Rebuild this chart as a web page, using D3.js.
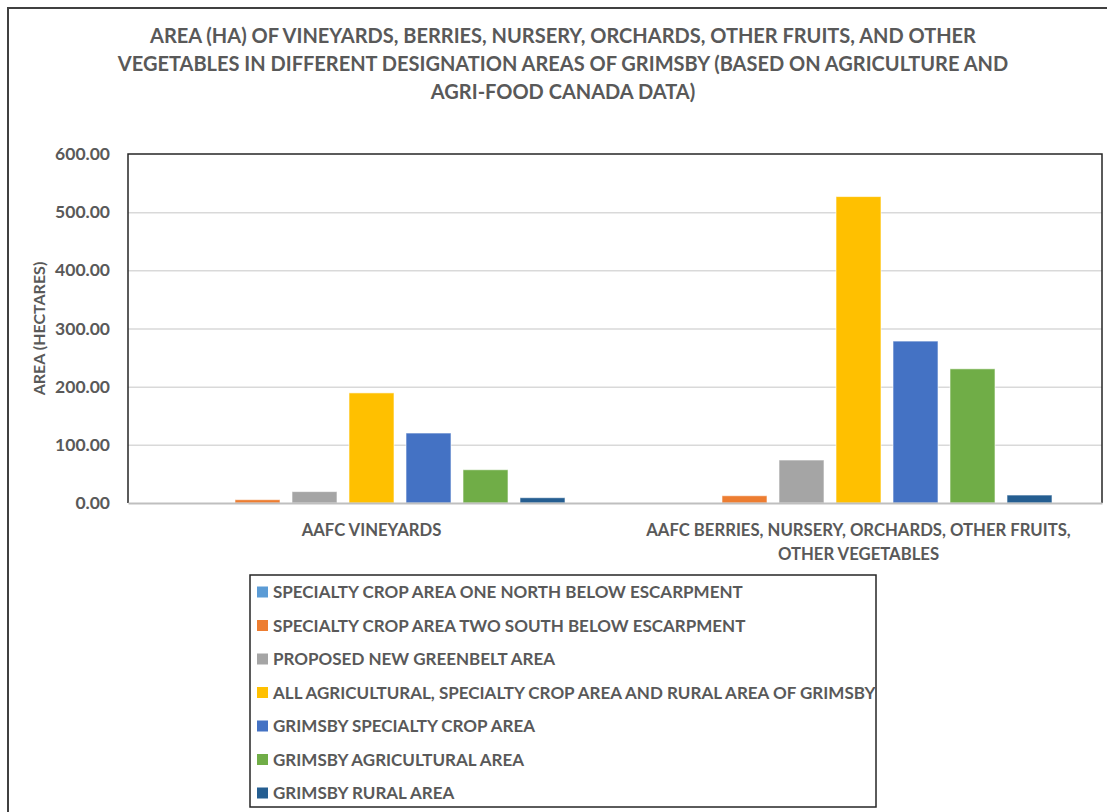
<!DOCTYPE html>
<html lang="en">
<head>
  <meta charset="utf-8" />
  <title>Grimsby agricultural areas</title>
  <script src="https://cdn.jsdelivr.net/npm/d3@7/dist/d3.min.js"></script>
  <style>
    body { margin: 0; background: white; }
    text { font-family: Lato, "Open Sans", sans-serif; font-weight: bold; fill: #595959; }
  </style>
</head>
<body>
<script>

// chart data
var categories = ["AAFC VINEYARDS", "AAFC BERRIES, NURSERY, ORCHARDS, OTHER FRUITS, OTHER VEGETABLES"];
var categoryLines = [["AAFC VINEYARDS"], ["AAFC BERRIES, NURSERY, ORCHARDS, OTHER FRUITS,", "OTHER VEGETABLES"]];
var seriesNames = [
  "SPECIALTY CROP AREA ONE NORTH BELOW ESCARPMENT",
  "SPECIALTY CROP AREA TWO SOUTH BELOW ESCARPMENT",
  "PROPOSED NEW GREENBELT AREA",
  "ALL AGRICULTURAL, SPECIALTY CROP AREA AND RURAL AREA OF GRIMSBY",
  "GRIMSBY SPECIALTY CROP AREA",
  "GRIMSBY AGRICULTURAL AREA",
  "GRIMSBY RURAL AREA"
];
var seriesColors = ["#5B9BD5", "#ED7D31", "#A5A5A5", "#FFC000", "#4472C4", "#70AD47", "#255E91"];
// values per series: [vineyards, berries etc.]
var vineyards = [0, 5.7, 19.6, 189.3, 120.3, 57.2, 9.1];
var berries   = [0, 12.5, 73.9, 526.8, 278.4, 230.7, 13.7];
var yTicks = [0, 100, 200, 300, 400, 500, 600];
var titleLines = [
  "AREA (HA) OF VINEYARDS, BERRIES, NURSERY, ORCHARDS, OTHER FRUITS, AND OTHER",
  "VEGETABLES IN DIFFERENT DESIGNATION AREAS OF GRIMSBY (BASED ON AGRICULTURE AND",
  "AGRI-FOOD CANADA DATA)"
];

var w = 1107, h = 812;
var plot = {left: 128, right: 1102, top: 154, bottom: 503};

var svg = d3.select("body").append("svg")
  .attr("width", w)
  .attr("height", h);

// outer chart frame (runs off the right and bottom edges)
svg.append("rect")
  .attr("x", 8).attr("y", 8)
  .attr("width", 1110).attr("height", 820)
  .attr("fill", "white")
  .attr("stroke", "#404040")
  .attr("stroke-width", 2);

// title
svg.append("g").selectAll("text")
  .data(titleLines)
  .enter().append("text")
  .attr("x", 563)
  .attr("y", function(d, i) { return 43 + i * 28; })
  .attr("text-anchor", "middle")
  .style("font-size", "20px")
  .text(function(d) { return d; });

var xScale = d3.scaleBand()
  .domain(categories)
  .range([plot.left, plot.right]);
var xInner = d3.scaleBand()
  .domain(d3.range(seriesNames.length))
  .range([0, xScale.bandwidth()])
  .paddingInner(12 / 57)
  .paddingOuter(0.877);
var yScale = d3.scaleLinear()
  .domain([0, 600])
  .range([plot.bottom, plot.top]);

// gridlines
svg.append("g")
  .attr("class", "grid")
  .attr("transform", "translate(" + plot.left + ",0)")
  .call(d3.axisLeft(yScale).tickValues(yTicks.slice(1, -1)).tickSize(-(plot.right - plot.left)).tickFormat(""))
  .call(function(g) {
    g.select(".domain").remove();
    g.selectAll("line").attr("stroke", "#d9d9d9").attr("stroke-width", 1.5);
  });

// y axis labels
svg.append("g")
  .attr("class", "y_axis")
  .attr("transform", "translate(" + plot.left + ",0)")
  .call(d3.axisLeft(yScale).tickValues(yTicks).tickSize(0).tickPadding(18).tickFormat(d3.format(".2f")))
  .call(function(g) {
    g.select(".domain").remove();
    g.selectAll("text").style("font-size", "17.5px").attr("fill", null);
  });

svg.append("text")
  .attr("transform", "translate(45," + ((plot.top + plot.bottom) / 2) + ") rotate(-90)")
  .attr("text-anchor", "middle")
  .style("font-size", "16px")
  .text("AREA (HECTARES)");

// bars
var groups = svg.append("g").selectAll("g")
  .data(categories)
  .enter().append("g")
  .attr("transform", function(d) { return "translate(" + xScale(d) + ",0)"; });

groups.selectAll("rect")
  .data(function(d, ci) {
    var vals = ci === 0 ? vineyards : berries;
    return vals.map(function(v, si) { return {s: si, v: v}; });
  })
  .enter().append("rect")
  .attr("x", function(d) { return xInner(d.s); })
  .attr("y", function(d) { return yScale(d.v); })
  .attr("width", xInner.bandwidth())
  .attr("height", function(d) { return yScale(0) - yScale(d.v); })
  .attr("fill", function(d) { return seriesColors[d.s]; })
  .attr("stroke", "white")
  .attr("stroke-opacity", 0.6)
  .attr("stroke-width", 1);

// plot border (left, top, right) and category axis
svg.append("path")
  .attr("d", "M" + plot.left + "," + plot.bottom + "V" + plot.top + "H" + plot.right + "V" + plot.bottom)
  .attr("fill", "none")
  .attr("stroke", "#262626")
  .attr("stroke-width", 1.5);

svg.append("g")
  .attr("class", "x_axis")
  .attr("transform", "translate(0," + plot.bottom + ")")
  .call(d3.axisBottom(xScale).tickSize(0).tickFormat(""))
  .call(function(g) {
    g.select(".domain").attr("stroke", "#bfbfbf").attr("stroke-width", 2);
  });

svg.append("g").selectAll("text")
  .data(categories)
  .enter().append("text")
  .attr("x", function(d) { return xScale(d) + xScale.bandwidth() / 2; })
  .attr("y", 536)
  .attr("text-anchor", "middle")
  .style("font-size", "16.7px")
  .each(function(d, i) {
    d3.select(this).selectAll("tspan")
      .data(categoryLines[i])
      .enter().append("tspan")
      .attr("x", xScale(d) + xScale.bandwidth() / 2)
      .attr("dy", function(t, j) { return j === 0 ? 0 : 24; })
      .text(function(t) { return t; });
  });

// legend
var legend = svg.append("g");
legend.append("rect")
  .attr("x", 250).attr("y", 575)
  .attr("width", 626).attr("height", 232)
  .attr("fill", "white")
  .attr("stroke", "#262626")
  .attr("stroke-width", 1.5);

svg.append("clipPath").attr("id", "legclip")
  .append("rect").attr("x", 250).attr("y", 575).attr("width", 626).attr("height", 232);

var items = legend.append("g").attr("clip-path", "url(#legclip)")
  .selectAll("g")
  .data(seriesNames)
  .enter().append("g")
  .attr("transform", function(d, i) { return "translate(257," + (592 + i * 33.5) + ")"; });

items.append("rect")
  .attr("x", 0).attr("y", -5.5)
  .attr("width", 11).attr("height", 11)
  .attr("fill", function(d, i) { return seriesColors[i]; });

items.append("text")
  .attr("x", 16)
  .attr("y", 6)
  .style("font-size", "17px")
  .text(function(d) { return d; });

</script>
</body>
</html>
